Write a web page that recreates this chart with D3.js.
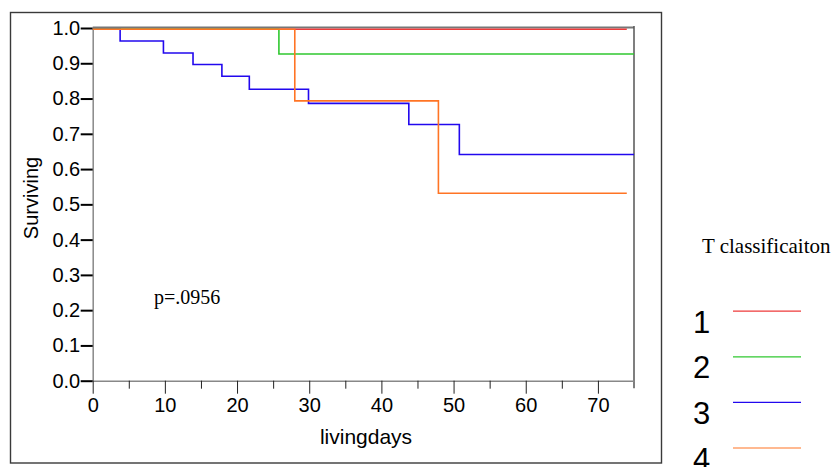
<!DOCTYPE html>
<html>
<head>
<meta charset="utf-8">
<script src="https://cdn.jsdelivr.net/npm/d3@7"></script>
<style>
  html, body { margin: 0; padding: 0; background: #fff; }
  svg { display: block; }
</style>
</head>
<body>
<svg id="chart" width="836" height="467"></svg>
<script>
// Kaplan–Meier survival curves by T classification (step functions).
const groups = ["1", "2", "3", "4"];
const groupColors = ["#ee3a3a", "#30c830", "#2208ee", "#ff7424"];

// Each step starts at the listed day and holds its survival value until the next one.
const daysT1 = [0];
const survT1 = [1.0];
const daysT2 = [0, 25.8];
const survT2 = [1.0, 0.93];
const daysT3 = [0, 3.8, 9.8, 13.9, 17.9, 21.7, 29.9, 43.8, 50.8];
const survT3 = [1.0, 0.967, 0.933, 0.9, 0.867, 0.83, 0.79, 0.73, 0.645];
const daysT4 = [0, 28.0, 47.9];
const survT4 = [1.0, 0.797, 0.535];
const lastDay = [74, 75, 75, 74];

const xTicks = [0, 10, 20, 30, 40, 50, 60, 70];
const xMinorTicks = [5, 15, 25, 35, 45, 55, 65];
const yTicks = [0, 0.1, 0.2, 0.3, 0.4, 0.5, 0.6, 0.7, 0.8, 0.9, 1.0];
const pValueText = "p=.0956";

const series = [
  { days: daysT1, surv: survT1 },
  { days: daysT2, surv: survT2 },
  { days: daysT3, surv: survT3 },
  { days: daysT4, surv: survT4 }
];

const svg = d3.select("#chart");
const x = d3.scaleLinear().domain([0, 75]).range([92.7, 634]);
const y = d3.scaleLinear().domain([0, 1]).range([380.7, 28]);

// outer frame
svg.append("rect")
  .attr("x", 10.5).attr("y", 12.5)
  .attr("width", 651).attr("height", 450.5)
  .attr("fill", "none").attr("stroke", "#3a3a3a").attr("stroke-width", 1.4);

// top and right borders of the plot
svg.append("line")
  .attr("x1", x(0)).attr("x2", x(75))
  .attr("y1", y(1) - 0.5).attr("y2", y(1) - 0.5)
  .attr("stroke", "#777").attr("stroke-width", 2);
svg.append("line")
  .attr("x1", x(75)).attr("x2", x(75))
  .attr("y1", y(1) - 2).attr("y2", y(0) + 7.5)
  .attr("stroke", "#555").attr("stroke-width", 1.5);

// y axis
const yAxis = svg.append("g")
  .attr("transform", `translate(${x(0)},0)`)
  .call(d3.axisLeft(y).tickValues(yTicks).tickFormat(d3.format(".1f"))
    .tickSize(12).tickSizeOuter(0).tickPadding(0.5));
yAxis.select(".domain").attr("stroke", "#888").attr("stroke-width", 1.5);
yAxis.selectAll(".tick line").attr("stroke", "#000").attr("stroke-width", 2);
yAxis.selectAll(".tick text")
  .attr("font-family", "Liberation Sans, Arial, sans-serif")
  .attr("font-size", 20).attr("fill", "#000");

// x axis, major ticks with labels
const xAxis = svg.append("g")
  .attr("transform", `translate(0,${y(0)})`)
  .call(d3.axisBottom(x).tickValues(xTicks).tickFormat(d3.format("d"))
    .tickSize(13).tickSizeOuter(0).tickPadding(4));
xAxis.select(".domain").attr("stroke", "#888").attr("stroke-width", 1.5);
xAxis.selectAll(".tick line").attr("stroke", "#222").attr("stroke-width", 1);
xAxis.selectAll(".tick text")
  .attr("font-family", "Liberation Sans, Arial, sans-serif")
  .attr("font-size", 20).attr("fill", "#000");

// x axis minor ticks
const xMinor = svg.append("g")
  .attr("transform", `translate(0,${y(0)})`)
  .call(d3.axisBottom(x).tickValues(xMinorTicks).tickFormat("")
    .tickSize(8).tickSizeOuter(0));
xMinor.select(".domain").remove();
xMinor.selectAll(".tick line").attr("stroke", "#222").attr("stroke-width", 1);

// survival step curves
const line = d3.line().x(d => x(d[0])).y(d => y(d[1])).curve(d3.curveStepAfter);
const curves = svg.append("g").attr("transform", "translate(0,1.3)");
[0, 2, 1, 3].forEach(i => {
  const s = series[i];
  const pts = s.days.map((d, k) => [d, s.surv[k]]);
  pts.push([lastDay[i], s.surv[s.surv.length - 1]]);
  curves.append("path")
    .attr("d", line(pts))
    .attr("fill", "none")
    .attr("stroke", groupColors[i])
    .attr("stroke-width", 1.6);
});

// axis titles
svg.append("text")
  .attr("x", 366).attr("y", 444)
  .attr("text-anchor", "middle")
  .attr("font-family", "Liberation Sans, Arial, sans-serif")
  .attr("font-size", 21)
  .text("livingdays");
svg.append("text")
  .attr("transform", "translate(38,198) rotate(-90)")
  .attr("text-anchor", "middle")
  .attr("font-family", "Liberation Sans, Arial, sans-serif")
  .attr("font-size", 20)
  .text("Surviving");

// p value
svg.append("text")
  .attr("x", 154).attr("y", 304)
  .attr("font-family", "Liberation Serif, Times New Roman, serif")
  .attr("font-size", 20)
  .text(pValueText);

// legend
svg.append("text")
  .attr("x", 702).attr("y", 253)
  .attr("font-family", "Liberation Serif, Times New Roman, serif")
  .attr("font-size", 21)
  .text("T classificaiton");

const legend = svg.append("g");
groups.forEach((g, i) => {
  const base = 332.7 + i * 45.6;
  legend.append("text")
    .attr("x", 693).attr("y", base)
    .attr("font-family", "Liberation Sans, Arial, sans-serif")
    .attr("font-size", 31)
    .text(g);
  legend.append("line")
    .attr("x1", 733).attr("x2", 801)
    .attr("y1", base - 21.5).attr("y2", base - 21.5)
    .attr("stroke", groupColors[i]).attr("stroke-width", 1.2);
});
</script>
</body>
</html>
